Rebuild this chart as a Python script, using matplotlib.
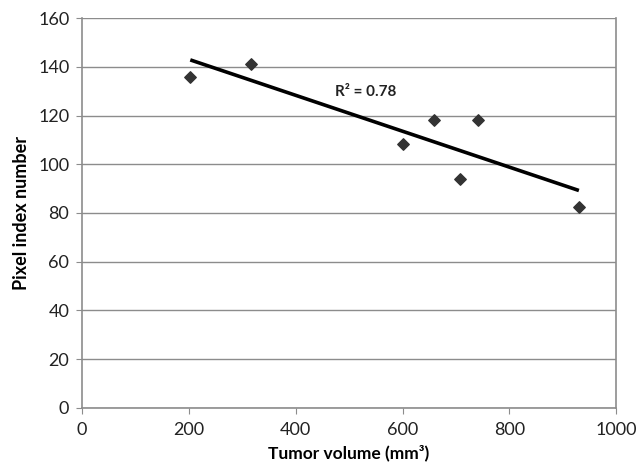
import numpy as np
import matplotlib
matplotlib.use("Agg")
import matplotlib.pyplot as plt

plt.rcParams['font.family'] = ['Lato', 'DejaVu Sans']

# tumor volume (mm3) vs pixel index
tumor_volume = [203, 317, 600, 658, 708, 742, 930]
pixel_index = [136, 141, 108.5, 118, 94, 118, 82.5]
x_ticks = [0, 200, 400, 600, 800, 1000]
y_ticks = [0, 20, 40, 60, 80, 100, 120, 140, 160]

x = np.array(tumor_volume)
y = np.array(pixel_index)
slope, intercept = np.polyfit(x, y, 1)
r2 = np.corrcoef(x, y)[0, 1] ** 2

fig = plt.figure(figsize=(6.44, 4.63), dpi=100)
ax = fig.add_axes([0.127, 0.119, 0.83, 0.842])

ax.set_xlim(0, 1000)
ax.set_ylim(0, 160)
ax.set_xticks(x_ticks)
ax.set_yticks(y_ticks)
ax.yaxis.grid(True, color='#8c8c8c', linewidth=1.0)
ax.set_axisbelow(True)

for s in ['left', 'bottom', 'right']:
    ax.spines[s].set_color('#8c8c8c')
    ax.spines[s].set_linewidth(1.2)
ax.spines['top'].set_visible(False)
ax.tick_params(axis='both', direction='out', length=4, color='#8c8c8c',
               labelsize=13, labelcolor='#222222')
ax.tick_params(axis='y', pad=5)
ax.tick_params(axis='x', pad=6)

xf = np.array([x.min(), x.max()])
ax.plot(xf, slope * xf + intercept, color='black', linewidth=2.6,
        solid_capstyle='butt', zorder=3)
ax.scatter(x, y, marker='D', s=34, color='#333333', zorder=4)

ax.text(532, 129.5, 'R² = %.2f' % r2, ha='center', va='center',
        fontsize=11, fontweight='bold', color='#222222')

ax.set_xlabel('Tumor volume (mm³)', fontsize=12.5, fontweight='bold', labelpad=5)
ax.set_ylabel('Pixel index number', fontsize=13, fontweight='bold', labelpad=6)

fig.savefig('out.png', dpi=100)
